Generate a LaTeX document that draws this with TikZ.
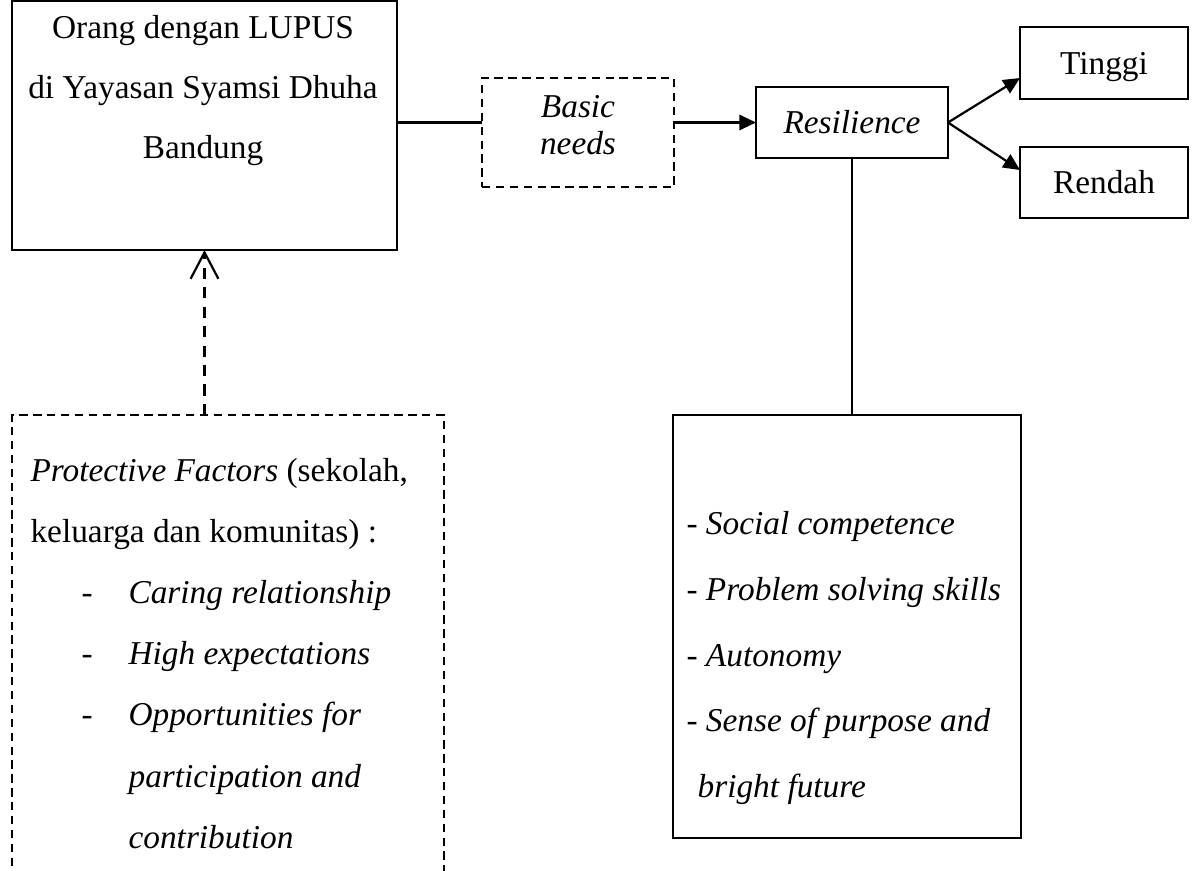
\documentclass[tikz,border=0pt]{standalone}
\usepackage{fontspec}
\setmainfont{Liberation Serif}
\usetikzlibrary{arrows.meta}

\newcommand{\pxu}{0.36pt}

\tikzset{
  box/.style={draw, line width=0.8pt, inner sep=0pt, outer sep=0pt},
  dashbox/.style={box, dash pattern=on 3pt off 2pt},
  txt/.style={inner sep=0pt, align=center, font=\fontsize{12}{21.6}\selectfont},
  conn/.style={line width=0.8pt},
  arr/.style={conn, -{Triangle[length=6pt,width=5.5pt]}},
  openarr/.style={conn, dash pattern=on 4pt off 3pt, -{Straight Barb[length=9.5pt,width=10pt]}}
}

\begin{document}
\begin{tikzpicture}[x=\pxu, y=-\pxu]
\useasboundingbox (0,0) rectangle (1192,871);

% top row
\node[box, minimum width=385*\pxu, minimum height=249*\pxu] (orang) at (204.5,125.5) {};
\node[txt] (orangtxt) at (203,91) {Orang dengan LUPUS\\di Yayasan Syamsi Dhuha\\Bandung};

\node[dashbox, minimum width=192*\pxu, minimum height=109*\pxu] (basic) at (578,132.5) {};
\node[txt, font=\fontsize{12}{13.3}\selectfont] (basictxt) at (578,125) {\textit{Basic}\\\textit{needs}};

\node[box, txt, minimum width=192*\pxu, minimum height=71*\pxu] (resil) at (852,122.5) {\textit{Resilience}};

% outcome
\node[box, txt, text depth=0pt, minimum width=168*\pxu, minimum height=72*\pxu] (tinggi) at (1104,63) {Tinggi};
\node[box, txt, minimum width=168*\pxu, minimum height=71*\pxu] (rendah) at (1104,182.5) {Rendah};

% bottom left, open at the bottom edge
\node[dashbox, minimum width=432*\pxu, minimum height=485*\pxu] (protect) at (228,657.5) {};
\node[txt, anchor=west, align=left, font=\fontsize{12}{22}\selectfont] (protecttxt) at (30,653.5) {%
\textit{Protective Factors} (sekolah,\\
keluarga dan komunitas) :\\
\hspace*{18.4pt}-\hspace*{12.9pt}\textit{Caring relationship}\\
\hspace*{18.4pt}-\hspace*{12.9pt}\textit{High expectations}\\
\hspace*{18.4pt}-\hspace*{12.9pt}\textit{Opportunities for}\\
\hspace*{35.3pt}\textit{participation and}\\
\hspace*{35.3pt}\textit{contribution}};

% bottom right
\node[box, minimum width=348*\pxu, minimum height=423*\pxu] (aspek) at (847,626.5) {};
\node[txt, anchor=west, align=left, font=\fontsize{12}{23.6}\selectfont] (aspektxt) at (686,658) {%
- \textit{Social competence}\\
- \textit{Problem solving skills}\\
- \textit{Autonomy}\\
- \textit{Sense of purpose and}\\
\hspace*{4pt}\textit{bright future}};

% connectors
\draw[conn] (orang.east |- resil.west) -- (basic.west |- resil.west);
\draw[arr] (basic.east |- resil.west) -- (resil.west);
\draw[arr] (resil.east) -- ([yshift=-5.4pt]tinggi.west);
\draw[arr] (resil.east) -- ([yshift=4.5pt]rendah.west);
\draw[conn] (resil.south) -- (resil.south |- aspek.north);
\draw[openarr] (protect.north -| orang.south) -- (orang.south);

\end{tikzpicture}
\end{document}
